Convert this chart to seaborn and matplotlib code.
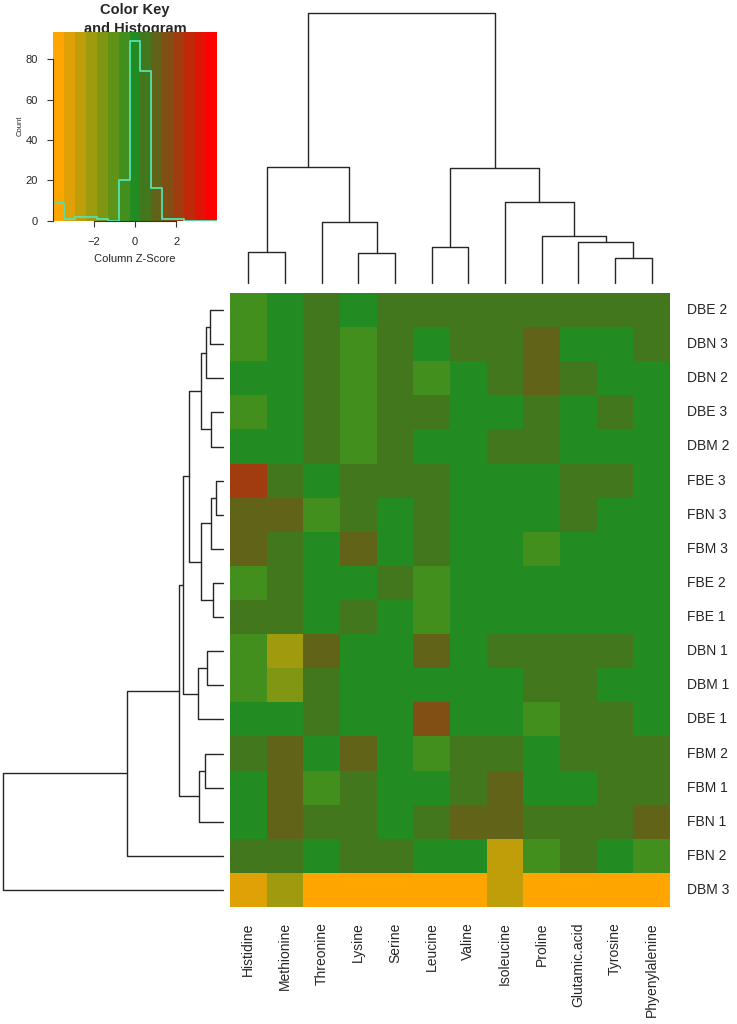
import numpy as np
import pandas as pd
import seaborn as sns
import matplotlib.pyplot as plt
from matplotlib.colors import LinearSegmentedColormap

# column order as shown (after clustering)
amino_acids = ["Histidine", "Methionine", "Threonine", "Lysine", "Serine", "Leucine",
               "Valine", "Isoleucine", "Proline", "Glutamic.acid", "Tyrosine", "Phyenylalenine"]

# row order as shown, top to bottom
samples = ["DBE 2", "DBN 3", "DBN 2", "DBE 3", "DBM 2", "FBE 3", "FBN 3", "FBM 3", "FBE 2",
           "FBE 1", "DBN 1", "DBM 1", "DBE 1", "FBM 2", "FBM 1", "FBN 1", "FBN 2", "DBM 3"]

# column z-scores
zscores = [
    [-0.45, 0.10, 0.42, 0.05, 0.55, 0.35, 0.48, 0.40, 0.52, 0.44, 0.38, 0.46],
    [-0.40, 0.12, 0.45, -0.55, 0.50, 0.08, 0.36, 0.42, 0.95, 0.15, 0.10, 0.50],
    [0.02, 0.15, 0.40, -0.50, 0.52, -0.48, 0.18, 0.38, 0.92, 0.46, 0.12, 0.05],
    [-0.52, 0.08, 0.48, -0.45, 0.45, 0.40, 0.10, 0.20, 0.35, 0.14, 0.55, 0.09],
    [0.00, 0.18, 0.44, -0.42, 0.48, 0.12, 0.15, 0.45, 0.40, 0.20, 0.06, 0.10],
    [2.10, 0.40, -0.05, 0.38, 0.42, 0.44, 0.05, 0.12, 0.02, 0.50, 0.48, 0.15],
    [1.05, 0.98, -0.55, 0.36, 0.10, 0.38, 0.08, 0.06, 0.14, 0.42, 0.18, 0.20],
    [0.98, 0.50, 0.04, 1.02, 0.15, 0.42, 0.12, 0.15, -0.50, 0.10, 0.22, 0.12],
    [-0.48, 0.46, 0.10, 0.08, 0.40, -0.45, 0.20, 0.18, 0.05, 0.16, 0.14, 0.18],
    [0.55, 0.44, 0.12, 0.45, 0.20, -0.42, 0.14, 0.10, 0.08, 0.12, 0.20, 0.16],
    [-0.50, -2.15, 1.00, 0.12, 0.18, 0.96, 0.22, 0.38, 0.45, 0.40, 0.36, 0.14],
    [-0.45, -1.60, 0.50, 0.15, 0.12, 0.05, 0.16, 0.08, 0.42, 0.46, 0.12, 0.18],
    [0.08, 0.20, 0.46, 0.10, 0.22, 1.60, 0.10, 0.14, -0.48, 0.52, 0.44, 0.20],
    [0.48, 1.00, 0.06, 0.95, 0.16, -0.50, 0.40, 0.44, 0.12, 0.38, 0.50, 0.42],
    [0.12, 1.05, -0.46, 0.42, 0.14, 0.06, 0.46, 0.98, 0.16, 0.05, 0.40, 0.48],
    [0.15, 0.96, 0.52, 0.50, 0.20, 0.44, 1.04, 1.00, 0.38, 0.44, 0.46, 1.02],
    [0.40, 0.42, 0.18, 0.46, 0.38, 0.10, 0.14, -2.65, -0.52, 0.48, 0.10, -0.45],
    [-3.20, -2.10, -3.80, -3.85, -3.75, -3.70, -3.90, -2.55, -3.80, -3.85, -3.90, -3.75],
]

# dendrogram merges (left, right, height); leaves are display positions,
# merged clusters are numbered n, n+1, ... like a linkage matrix
col_merges = [(10, 11, 25), (3, 4, 30), (0, 1, 31), (5, 6, 36), (9, 12, 41), (8, 16, 47),
              (2, 13, 61), (7, 17, 81), (14, 18, 116), (15, 19, 115), (20, 21, 270)]
row_merges = [(5, 6, 6.7), (8, 9, 10.0), (18, 7, 11.7), (3, 4, 12.0), (0, 1, 12.7),
              (10, 11, 15.7), (22, 2, 17.0), (13, 14, 17.7), (24, 21, 21.4), (20, 19, 22.0),
              (25, 15, 23.4), (23, 12, 25.0), (26, 27, 34.0), (30, 29, 40.0), (31, 28, 43.7),
              (32, 16, 95.4), (33, 17, 219.4)]

key_breaks = np.linspace(-4, 4, 16)

sns.set_style("white")
plt.rcParams["font.family"] = ["Liberation Sans", "DejaVu Sans"]

cmap = LinearSegmentedColormap.from_list("ogr", ["orange", "forestgreen", "red"], N=15)
df = pd.DataFrame(zscores, index=samples, columns=amino_acids)

W, H = 737, 1024
fig = plt.figure(figsize=(W / 100, H / 100), dpi=100)


def box(x0, y0, x1, y1):
    return [x0 / W, 1 - y1 / H, (x1 - x0) / W, (y1 - y0) / H]


# heatmap
ax = fig.add_axes(box(230, 293, 670, 907))
sns.heatmap(df, cmap=cmap, vmin=-4, vmax=4, cbar=False, ax=ax,
            xticklabels=True, yticklabels=True)
ax.yaxis.tick_right()
ax.tick_params(axis="both", length=0, labelsize=10)
ax.tick_params(axis="y", pad=12)
ax.tick_params(axis="x", pad=11)
plt.setp(ax.get_yticklabels(), rotation=0, ha="left", va="center")
plt.setp(ax.get_xticklabels(), rotation=90, ha="center", va="top")
ax.set_xlabel("")
ax.set_ylabel("")


def dendro(dax, merges, n, top):
    pos = {i: i + 0.5 for i in range(n)}
    hgt = {i: 0.0 for i in range(n)}
    for k, (a, b, h) in enumerate(merges):
        p = [pos[a], pos[a], pos[b], pos[b]]
        q = [hgt[a], h, h, hgt[b]]
        if top:
            dax.plot(p, q, color="#262626", lw=1.0, clip_on=False)
        else:
            dax.plot(q, p, color="#262626", lw=1.0, clip_on=False)
        pos[n + k] = (pos[a] + pos[b]) / 2
        hgt[n + k] = h
    dax.set_axis_off()


# column dendrogram
cax = fig.add_axes(box(230, 13, 670, 283))
dendro(cax, col_merges, len(amino_acids), True)
cax.set_xlim(0, len(amino_acids))
cax.set_ylim(0, 270)

# row dendrogram
rax = fig.add_axes(box(3.3, 293, 222.7, 907))
dendro(rax, row_merges, len(samples), False)
rax.set_ylim(len(samples), 0)
rax.set_xlim(219.4, 0)

# colour key with histogram
kax = fig.add_axes(box(52.7, 31.7, 217.3, 220.7))
values = df.to_numpy().ravel()
counts = np.histogram(values, key_breaks)[0]
ytop = counts.max() / 0.95
mids = (key_breaks[:-1] + key_breaks[1:]) / 2
kax.pcolormesh(key_breaks, [0, ytop], mids[None, :], cmap=cmap, vmin=-4, vmax=4)
sns.histplot(x=values, bins=key_breaks, element="step", fill=False, color="#52e3b0",
             linewidth=1.3, ax=kax)
kax.set_xlim(-4, 4)
kax.set_ylim(0, ytop)
kax.set_xticks([-2, 0, 2])
kax.set_yticks([0, 20, 40, 60, 80])
kax.tick_params(axis="both", direction="out", length=4.3, width=0.8, color="#333333",
                labelsize=8, bottom=True, left=True)
kax.tick_params(axis="x", pad=7.5)
kax.tick_params(axis="y", pad=6.5)
plt.setp(kax.get_yticklabels(), rotation=90, va="center")
kax.set_xlabel("Column Z-Score", fontsize=8, labelpad=5)
kax.set_ylabel("Count", fontsize=5.5, labelpad=1)
for side in ["top", "right"]:
    kax.spines[side].set_visible(False)
kax.spines["left"].set_bounds(0, 80)
kax.spines["bottom"].set_bounds(-2, 2)
for side in ["left", "bottom"]:
    kax.spines[side].set_color("#333333")
    kax.spines[side].set_linewidth(0.8)
    kax.spines[side].set_position(("outward", 0))

fig.text(135 / W, 1 - 10 / H, "Color Key", ha="center", va="center",
         fontsize=10.5, fontweight="bold", zorder=-1)
fig.text(135 / W, 1 - 28.5 / H, "and Histogram", ha="center", va="center",
         fontsize=10.5, fontweight="bold", zorder=-1)

fig.savefig("out.png", dpi=100)
